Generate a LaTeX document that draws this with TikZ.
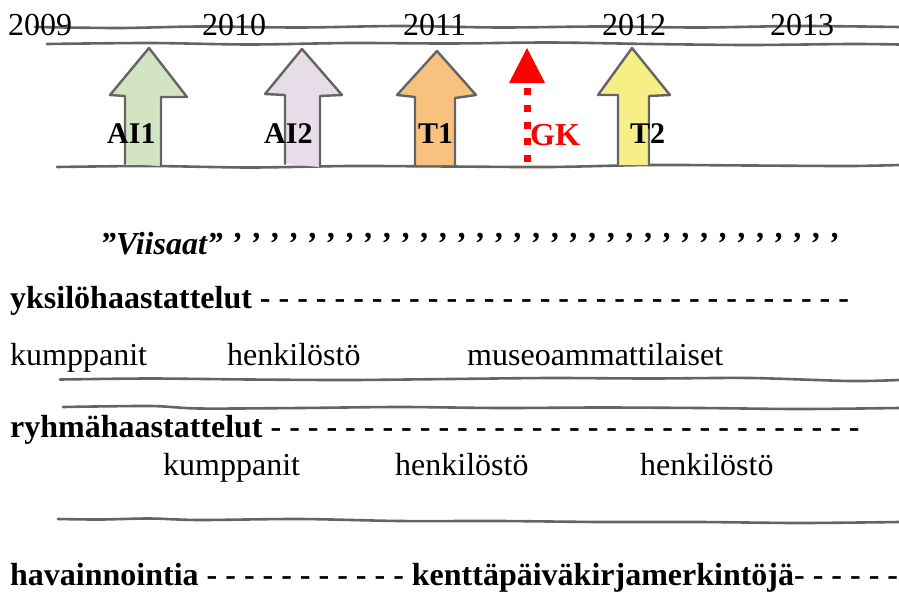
\documentclass[tikz,border=0pt]{standalone}
\usepackage{fontspec}
\setmainfont{Liberation Serif}
\definecolor{pastelgreen}{HTML}{D3E4C3}
\definecolor{pastellilac}{HTML}{E9DCE9}
\definecolor{pastelorange}{HTML}{F7C27E}
\definecolor{pastelyellow}{HTML}{F6EF86}
\definecolor{pencilgray}{HTML}{646464}
\begin{document}
\begin{tikzpicture}[x=1pt,y=-1pt,
  pencil/.style={draw=pencilgray,line width=2.6pt,line cap=round,line join=round},
  txt/.style={anchor=base west,inner sep=0pt,font=\fontsize{32}{36}\selectfont},
  btxt/.style={txt,font=\fontsize{32}{36}\selectfont\bfseries},
  lbl/.style={anchor=base west,inner sep=0pt,font=\fontsize{30}{34}\selectfont\bfseries},
  blockarrow/.style={pencil,line width=2.4pt},
  gkred/.style={color=red}]
\useasboundingbox (0,0) rectangle (899,592);

% --- timeline frame: pencil lines ---
\draw[pencil] plot[smooth] coordinates {(35,27) (120,28) (200,26.5) (300,27.5) (400,26) (500,27.5) (600,26.5) (700,27.5) (800,26) (899,27)};
\draw[pencil] plot[smooth] coordinates {(47,44) (150,43) (250,44.5) (350,43) (450,43.5) (550,42.5) (650,44) (750,45) (850,44) (899,44.5)};
\draw[pencil] plot[smooth] coordinates {(57,167) (150,166) (250,167.5) (350,166) (450,166.5) (550,167) (650,165) (750,165.5) (850,166) (899,165)};

% --- years ---
\node[txt] (y2009) at (8,35) {2009};
\node[txt] (y2010) at (202,35) {2010};
\node[txt] (y2011) at (403,35) {2011};
\node[txt] (y2012) at (602,35) {2012};
\node[txt] (y2013) at (770,35) {2013};

% --- block arrows ---
\filldraw[blockarrow,fill=pastelgreen]
  (125,164) -- (125,96) -- (110,95) -- (149,48) -- (187,97) -- (161,97) -- (161,166);
\filldraw[blockarrow,fill=pastellilac]
  (285,164) -- (285,95) -- (265,94) -- (302,49) -- (342,95) -- (320,96) -- (320,167);
\filldraw[blockarrow,fill=pastelorange]
  (415,165) -- (415,97) -- (397,95) -- (437,51) -- (476,95) -- (455,98) -- (455,165);
\filldraw[blockarrow,fill=pastelyellow]
  (618,165) -- (618,95) -- (598,95) -- (632,48) -- (670,95) -- (649,96) -- (649,165);

\node[lbl] (ai1) at (107,143) {AI1};
\node[lbl] (ai2) at (264,143) {AI2};
\node[lbl] (t1) at (418,143) {T1};
\node[lbl] (t2) at (630,143) {T2};

% --- red dotted marker ---
\coordinate (gkfoot) at (527,162);
\coordinate (gktop) at (527,88);
\coordinate (gktip) at (527,48);
\draw[gkred,line width=7pt,dash pattern=on 7pt off 9.75pt] (gkfoot) -- (gktop);
\fill[gkred] (gktip) -- (545,83) -- (509,83) -- cycle;
\node[btxt,gkred] (gk) at (530,145) {GK};

% --- methods ---
\node[txt,font=\fontsize{32}{36}\selectfont\bfseries\itshape] (viisaat) at (100,254)
  {”Viisaat” ’ ’ ’ ’ ’ ’ ’ ’ ’ ’ ’ ’ ’ ’ ’ ’ ’ ’ ’ ’ ’ ’ ’ ’ ’ ’ ’ ’ ’ ’ ’ ’ ’};
\node[btxt] (yksilo) at (10,308)
  {yksilöhaastattelut - - - - - - - - - - - - - - - - - - - - - - - - - - - - - - - -};
\node[txt] (kump1) at (10,365) {kumppanit};
\node[txt] (henk1) at (227,365) {henkilöstö};
\node[txt] (museo) at (467,365) {museoammattilaiset};

\draw[pencil] plot[smooth] coordinates {(60,379.5) (150,378.5) (250,379.5) (350,380) (450,379) (550,378) (650,378.5) (750,378) (850,381) (899,380)};
\draw[pencil] plot[smooth] coordinates {(63,407) (150,406) (200,408.5) (300,408) (400,407) (500,408) (600,407.5) (700,408) (800,409) (899,408)};

\node[btxt] (ryhma) at (10,437)
  {ryhmähaastattelut - - - - - - - - - - - - - - - - - - - - - - - - - - - - - - - -};
\node[txt] (kump2) at (163,475) {kumppanit};
\node[txt] (henk2) at (395,475) {henkilöstö};
\node[txt] (henk3) at (640,475) {henkilöstö};

\draw[pencil] plot[smooth] coordinates {(58,519) (100,519.5) (150,518.5) (200,520) (300,519) (400,521) (500,521) (600,522) (700,522) (800,523) (899,522)};

\node[btxt] (havainto) at (10,585)
  {havainnointia - - - - - - - - - - - kenttäpäiväkirjamerkintöjä- - - - - -};
\end{tikzpicture}
\end{document}
